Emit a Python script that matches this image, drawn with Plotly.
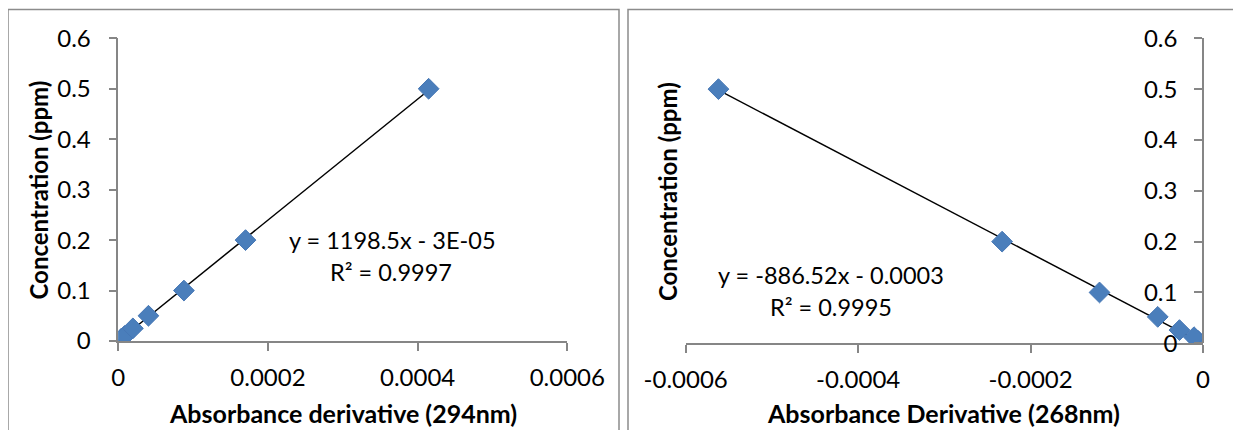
import plotly.graph_objects as go

W, H = 1241, 430
OFF = 8  # page body margin in the browser

# ---- data ----
conc_left = [0.005, 0.01, 0.025, 0.05, 0.1, 0.2, 0.5]
abs_294 = [0.0000042, 0.0000084, 0.0000195, 0.0000403, 0.0000877, 0.00017, 0.0004147]
fit_left = (1198.5, -3e-05)
eq_left = ["y = 1198.5x - 3E-05", "R² = 0.9997"]

conc_right = [0.005, 0.012, 0.026, 0.052, 0.1, 0.2, 0.5]
abs_268 = [-0.0000058, -0.0000104, -0.0000273, -0.0000525, -0.00012, -0.000233, -0.000562]
fit_right = (-886.52, -0.0003)
eq_right = ["y = -886.52x - 0.0003", "R² = 0.9995"]

x_ticks_left = [0, 0.0002, 0.0004, 0.0006]
x_ticks_right = [-0.0006, -0.0004, -0.0002, 0]
y_ticks = [0, 0.1, 0.2, 0.3, 0.4, 0.5, 0.6]

FONT = "Lato"
FS = 24
BLUE = "#4a7ebb"
AXC = "#868686"


def px(x):
    return (x - OFF) / W


def py(y):
    return 1 - (y - OFF) / H


fig = go.Figure()

# trendlines (from fitted equation over data range)
for xs, (m, b), xa, ya in [(abs_294, fit_left, "x", "y"), (abs_268, fit_right, "x2", "y2")]:
    x0, x1 = min(xs), max(xs)
    fig.add_trace(go.Scatter(x=[x0, x1], y=[m * x0 + b, m * x1 + b], mode="lines",
                             line=dict(color="black", width=1.5), xaxis=xa, yaxis=ya,
                             showlegend=False, hoverinfo="skip"))

fig.add_trace(go.Scatter(x=abs_294, y=conc_left, mode="markers", xaxis="x", yaxis="y",
                         marker=dict(symbol="diamond", size=16, color=BLUE,
                                     line=dict(color="#4677b5", width=1)), showlegend=False))
fig.add_trace(go.Scatter(x=abs_268, y=conc_right, mode="markers", xaxis="x2", yaxis="y2",
                         marker=dict(symbol="diamond", size=16, color=BLUE,
                                     line=dict(color="#4677b5", width=1)), showlegend=False))

ax_common = dict(showgrid=False, zeroline=False, showline=True, linecolor=AXC, linewidth=1.5,
                 ticks="outside", ticklen=8, tickcolor=AXC, tickwidth=1.5, automargin=False,
                 tickfont=dict(family=FONT, size=FS, color="black"))

fig.update_layout(
    width=W, height=H, margin=dict(l=0, r=0, t=0, b=0),
    paper_bgcolor="white", plot_bgcolor="white",
    xaxis=dict(domain=[px(118.3), px(567.3)], range=[0, 0.0006], tickvals=x_ticks_left,
               ticktext=["0", "0.0002", "0.0004", "0.0006"], anchor="y",
               ticklabelstandoff=6, **ax_common),
    yaxis=dict(domain=[py(341), py(38.3)], range=[0, 0.6], tickvals=y_ticks,
               ticktext=["0", "0.1", "0.2", "0.3", "0.4", "0.5", "0.6"], anchor="x",
               ticklabelstandoff=13, **ax_common),
    xaxis2=dict(domain=[px(685.7), px(1203)], range=[-0.0006, 0], tickvals=x_ticks_right,
                ticktext=["-0.0006", "-0.0004", "-0.0002", "0"], anchor="y2",
                ticklabelstandoff=6, **ax_common),
    yaxis2=dict(domain=[py(343.3), py(38.3)], range=[0, 0.6], tickvals=y_ticks,
                ticktext=["0", "0.1", "0.2", "0.3", "0.4", "0.5", "0.6"], anchor="free",
                position=px(1203), side="left", ticklabelstandoff=12, **ax_common),
)

# panel borders
for x0, x1 in [(8, 619), (628, 1236)]:
    fig.add_shape(type="rect", xref="paper", yref="paper", x0=px(x0), x1=px(x1),
                  y0=py(450), y1=py(9.5), line=dict(color="#8c8c8c", width=1.5),
                  fillcolor="rgba(0,0,0,0)", layer="below")

def ann(text, x, y, bold=False, angle=0, size=FS):
    fig.add_annotation(text=f"<b>{text}</b>" if bold else text, x=px(x), y=py(y),
                       xref="paper", yref="paper", xanchor="center", yanchor="middle",
                       showarrow=False, textangle=angle,
                       font=dict(family=FONT, size=size, color="black"))

ann("Absorbance derivative (294nm)", 343, 413, bold=True, size=25)
ann("Absorbance Derivative (268nm)", 943, 413, bold=True, size=25)
ann("Concentration (ppm)", 38.5, 190, bold=True, angle=-90)
ann("Concentration (ppm)", 667.4, 191.7, bold=True, angle=-90)
ann(eq_left[0], 392, 240, size=23.5)
ann(eq_left[1], 391, 272, size=23.5)
ann(eq_right[0], 830.5, 275, size=23.5)
ann(eq_right[1], 830.5, 307, size=23.5)

fig.write_html("out.html")
